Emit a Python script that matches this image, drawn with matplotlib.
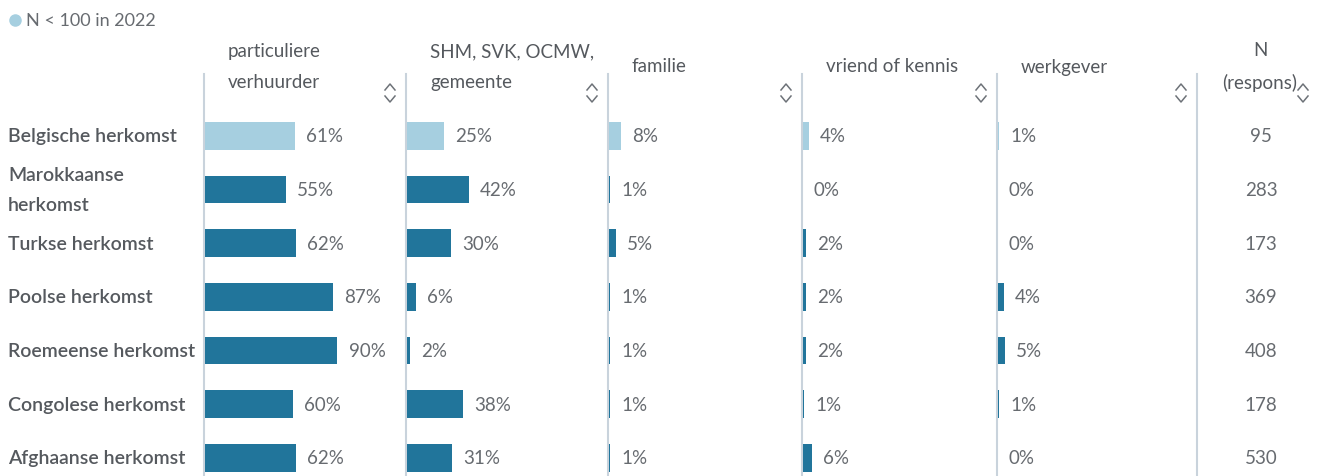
import matplotlib
matplotlib.use('Agg')
import matplotlib.pyplot as plt
from matplotlib.lines import Line2D

plt.rcParams['font.family'] = ['Lato', 'DejaVu Sans']

# data
rows = ['Belgische herkomst', 'Marokkaanse\nherkomst', 'Turkse herkomst', 'Poolse herkomst',
        'Roemeense herkomst', 'Congolese herkomst', 'Afghaanse herkomst']
headers = ['particuliere\nverhuurder', 'SHM, SVK, OCMW,\ngemeente', 'familie',
           'vriend of kennis', 'werkgever']
particulier = [61, 55, 62, 87, 90, 60, 62]
shm = [25, 42, 30, 6, 2, 38, 31]
familie = [8, 1, 5, 1, 1, 1, 1]
vriend = [4, 0, 2, 2, 2, 1, 6]
werkgever = [1, 0, 0, 4, 5, 1, 0]
n_respons = [95, 283, 173, 369, 408, 178, 530]
low_n = [True, False, False, False, False, False, False]  # N < 100

dark = '#21759b'
light = '#a6cfe0'
grid_c = '#c9d3dc'
txt = '#676b70'
lbl = '#55595e'

W, H = 1325, 477
fig = plt.figure(figsize=(W / 100, H / 100), dpi=100)

col_lines = [204, 406, 608, 802, 997, 1197]
px_per_pct = 1.48
top_px, bot_px = 110, 485.7
ylo, yhi = 6.5, -0.5
line_top = 1 + (top_px - 75) / (bot_px - top_px)
fs = 13.5


def fx(px):
    return px / W


def fy(py):
    return 1 - py / H


def chevrons(x, y):
    # small sort icon (up + down chevron)
    for dy, s in [(-6, 1), (6, -1)]:
        xs = [x - 5, x, x + 5]
        ys = [y + dy + 3 * s, y + dy - 3 * s, y + dy + 3 * s]
        fig.add_artist(Line2D([fx(v) for v in xs], [fy(v) for v in ys],
                              color='#6d7278', lw=1.1))


def col_axes(left, width):
    ax = fig.add_axes([fx(left), fy(bot_px), fx(width), (bot_px - top_px) / H])
    ax.set_ylim(ylo, yhi)
    ax.axis('off')
    return ax


series = [particulier, shm, familie, vriend, werkgever]
for i, vals in enumerate(series):
    left = col_lines[i]
    width = col_lines[i + 1] - left
    ax = col_axes(left, width)
    ax.set_xlim(-0.5, width / px_per_pct)
    colors = [light if l else dark for l in low_n]
    ax.barh(range(len(rows)), vals, height=0.52, color=colors, zorder=3)
    for j, v in enumerate(vals):
        ax.annotate(f'{v}%', (v, j), xytext=(8, 0), textcoords='offset points',
                    va='center', ha='left', fontsize=fs, color=txt)
    ax.axvline(-0.5, ymin=0, ymax=line_top, color=grid_c, lw=1.5, clip_on=False, zorder=1)
    # header
    fig.text(fx(left + 24), fy(67), headers[i], ha='left', va='center',
             fontsize=fs, color=lbl, linespacing=1.95)
    chevrons(col_lines[i + 1] - 16, 94)

# N column
axn = col_axes(col_lines[-1], W - col_lines[-1])
axn.set_xlim(0, 1)
axn.axvline(0, ymin=0, ymax=line_top, color=grid_c, lw=1.5, clip_on=False)
for j, n in enumerate(n_respons):
    axn.text(0.5, j, str(n), ha='center', va='center', fontsize=fs, color=txt)
fig.text(fx(1260), fy(67), 'N\n(respons)', ha='center', va='center',
         fontsize=fs, color=lbl, linespacing=1.95)
chevrons(1303, 94)

# row labels
axl = col_axes(0, col_lines[0])
axl.set_xlim(0, col_lines[0])
for j, r in enumerate(rows):
    axl.text(8, j, r, ha='left', va='center', fontsize=14,
             color=lbl, fontweight='semibold', linespacing=1.95)

# legend
fig.add_artist(Line2D([fx(15)], [fy(21)], marker='o', ms=8, color=light, lw=0))
fig.text(fx(26), fy(21), 'N < 100 in 2022', ha='left', va='center', fontsize=13, color=txt)

fig.savefig('out.png', dpi=100)
